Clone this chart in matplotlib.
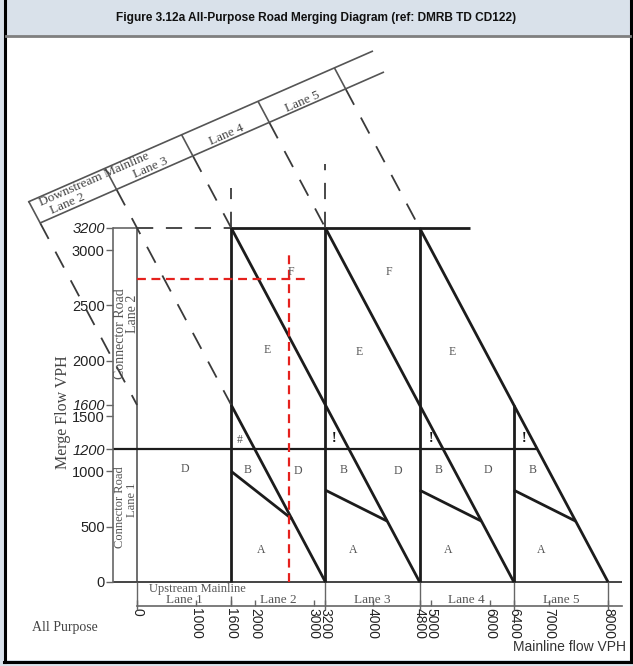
import numpy as np
import matplotlib
matplotlib.use('Agg')
import matplotlib.pyplot as plt
from matplotlib.lines import Line2D
from matplotlib.patches import Rectangle

W, H = 633, 666
SERIF = ['Liberation Serif', 'DejaVu Serif']
SANS = ['Liberation Sans', 'DejaVu Sans']

# ---------------- data ----------------
title = 'Figure 3.12a All-Purpose Road Merging Diagram (ref: DMRB TD CD122)'
lane_bounds = [0, 1600, 3200, 4800, 6400, 8000]
lane_names = ['Lane 1', 'Lane 2', 'Lane 3', 'Lane 4', 'Lane 5']
vert_x = [1600, 3200, 4800, 6400]
vert_top = [3200, 3200, 3200, 1600]
cap_sum = [1600, 3200, 4800, 6400, 8000]          # lines x + y = c
dash_end_x = [0, 1600, 1600, 3200, 4800]          # dashed part ends here
solid = [False, True, True, True, True]           # solid part down to y = 0
ba_x0 = [1600, 3200, 4800, 6400]
ba_y0 = [1000, 830, 830, 830]
ba_x1 = [2630, 4250, 5850, 7450]
ba_y1 = [570, 550, 550, 550]
merge_1200 = 1200
merge_1200_end = 6800
merge_3200 = 3200
merge_3200_end = 5650
up_dash_x = [1600, 3200]
up_dash_top = [3560, 3780]
design_mainline = 2580
design_merge = 2740
design_h_end = 2940
design_v_top = 3000
yticks = [0, 500, 1000, 1200, 1500, 1600, 2000, 2500, 3000, 3200]
italic_ticks = [1200, 1600, 3200]
xticks = [0, 1000, 1600, 2000, 3000, 3200, 4000, 4800, 5000, 6000, 6400, 7000, 8000]
# slanted "Downstream Mainline" band (x, y in VPH)
band_upper_x = [-1851, 4008]
band_upper_y = [3435, 4800]
band_lower_x = [-1647, 4195]
band_lower_y = [3245, 4610]
band_text = ['Downstream Mainline', 'Lane 2', 'Lane 3', 'Lane 4', 'Lane 5']
band_text_x = [-733, -1175, 221, 1529, 2819]
band_text_y = [3641, 3422, 3742, 4040, 4339]
region_text = ['D', 'B', 'D', 'A', 'E', 'F', '#',
               'B', 'D', 'A', 'E', 'F', '!',
               'B', 'D', 'A', 'E', '!',
               'B', 'A', '!']
region_x = [815, 1885, 2734, 2100, 2208, 2615, 1750,
            3516, 4433, 3668, 3770, 4280, 3346,
            5129, 5961, 5282, 5350, 4993,
            6726, 6861, 6573]
region_y = [1020, 1010, 1000, 289, 2097, 2802, 1284,
            1010, 1000, 289, 2079, 2802, 1293,
            1010, 1010, 289, 2079, 1293,
            1010, 289, 1293]

# axis extents
x_min, x_max = -408, 8288
y_min, y_max = -217, 4854

fig = plt.figure(figsize=(W / 100, H / 100), dpi=100)
fig.patch.set_facecolor('#d9e1ea')

def fx(px):
    return px / W

def fy(py):
    return 1 - py / H

# frame
fig.add_artist(Rectangle((fx(6), fy(660)), fx(630) - fx(6), fy(37) - fy(660),
                         transform=fig.transFigure, facecolor='white', edgecolor='none',
                         zorder=-10))
for xs, ys, c, lw in [([4.8, 4.8], [0, 661.5], 'black', 2.2),
                      ([631, 631], [0, 661.5], 'black', 2.2),
                      ([3.5, 632], [661.5, 661.5], 'black', 2.2),
                      ([6, 630], [35.5, 35.5], '#7f7f7f', 2.0)]:
    fig.add_artist(Line2D([fx(v) for v in xs], [fy(v) for v in ys], color=c, lw=lw,
                          transform=fig.transFigure, zorder=5))
fig.text(fx(316.5), fy(18), title, ha='center', va='center', fontsize=8.6,
         fontweight='bold', family=SANS, color='#111111')

ax = fig.add_axes([fx(113), fy(606), fx(625) - fx(113), fy(45) - fy(606)])
ax.set_zorder(1)
ax.set_xlim(x_min, x_max)
ax.set_ylim(y_min, y_max)
ax.patch.set_visible(False)
for s in ['top', 'right']:
    ax.spines[s].set_visible(False)
ax.spines['left'].set_bounds(0, 3200)
ax.spines['left'].set_color('#666666')
ax.spines['left'].set_linewidth(1.2)
ax.spines['bottom'].set_bounds(0, 8240)
ax.spines['bottom'].set_color('#666666')
ax.spines['bottom'].set_linewidth(1.2)

ax.set_yticks(yticks, [str(v) for v in yticks], fontsize=10.5, family=SANS)
for lab, v in zip(ax.get_yticklabels(), yticks):
    if v in italic_ticks:
        lab.set_fontstyle('italic')
ax.tick_params(axis='y', direction='out', length=5, width=1, color='#666666', pad=1,
               labelcolor='#222222')
ax.set_xticks(xticks, [str(v) for v in xticks], rotation=-90, fontsize=10, family=SANS)
ax.tick_params(axis='x', direction='in', length=4, width=1, color='#666666', pad=1.5,
               labelcolor='#222222')

BLK = '#1c1c1c'
GRY = '#666666'
DSH = '#3a3a3a'
kw = dict(clip_on=False, solid_capstyle='butt')

# left connector-road box and axes lines
ax.plot([x_min, 0], [merge_3200, merge_3200], color=GRY, lw=1.2, **kw)
ax.plot([0, 0], [0, merge_3200], color='#555555', lw=1.2, **kw)
ax.plot([x_min, 8240], [0, 0], color='#444444', lw=1.4, **kw)
for xb in lane_bounds:
    if xb == 1600:
        ax.plot([xb, xb], [y_min, -130], color=GRY, lw=1.0, **kw)
    else:
        ax.plot([xb, xb], [y_min - 40, 0], color=GRY, lw=1.0, **kw)

# horizontal merge-flow lines
ax.plot([x_min, merge_1200_end], [merge_1200, merge_1200], color=BLK, lw=1.6, **kw)
ax.plot([0, lane_bounds[1]], [merge_3200, merge_3200], color=DSH, lw=1.3,
        dashes=(9, 7), **kw)
ax.plot([lane_bounds[1], merge_3200_end], [merge_3200, merge_3200], color=BLK, lw=2.0, **kw)

# vertical lane lines
for xv, yt in zip(vert_x, vert_top):
    ax.plot([xv, xv], [0, yt], color=BLK, lw=2.0, **kw)
for xv, yt in zip(up_dash_x, up_dash_top):
    ax.plot([xv, xv], [merge_3200, yt], color=DSH, lw=1.3, dashes=(9, 7), **kw)

# capacity lines x + y = c
ux = np.array(band_upper_x, float)
uy = np.array(band_upper_y, float)
lx = np.array(band_lower_x, float)
ly = np.array(band_lower_y, float)
su = (uy[1] - uy[0]) / (ux[1] - ux[0])
sl = (ly[1] - ly[0]) / (lx[1] - lx[0])
for c, xe, so in zip(cap_sum, dash_end_x, solid):
    xu = (c - uy[0] + su * ux[0]) / (1 + su)
    xl = (c - ly[0] + sl * lx[0]) / (1 + sl)
    ax.plot([xu, xl], [c - xu, c - xl], color='#555555', lw=1.2, **kw)
    ax.plot([xl, xe], [c - xl, c - xe], color=DSH, lw=1.3, dashes=(10, 8), **kw)
    if so:
        ax.plot([xe, c], [c - xe, 0], color=BLK, lw=2.0, **kw)

# band outline
ax.plot(ux, uy, color='#555555', lw=1.2, **kw)
ax.plot(lx, ly, color='#555555', lw=1.2, **kw)
ang = np.degrees(np.arctan2(su, 1))
for t, x, y in zip(band_text, band_text_x, band_text_y):
    ax.text(x, y, t, rotation=ang, transform_rotates_text=True, rotation_mode='anchor',
            ha='center', va='center', fontsize=9.5, family=SERIF, color='#444444')

# B / A boundaries
for x0, y0, x1, y1 in zip(ba_x0, ba_y0, ba_x1, ba_y1):
    ax.plot([x0, x1], [y0, y1], color=BLK, lw=2.0, **kw)

# region letters
for t, x, y in zip(region_text, region_x, region_y):
    if t == '!':
        ax.text(x, y, t, ha='center', va='center', fontsize=10, family=SERIF,
                color='#111111', fontweight='bold')
    else:
        ax.text(x, y, t, ha='center', va='center', fontsize=8.5, family=SERIF,
                color='#555555')

# red design lines
ax.plot([0, design_h_end], [design_merge, design_merge], color='#e5211d', lw=1.6,
        dashes=(4, 2.5), **kw)
ax.plot([design_mainline, design_mainline], [0, design_v_top], color='#e5211d', lw=1.6,
        dashes=(4, 2.5), **kw)

# lane names in bottom band
ax.text(1019, -62, 'Upstream Mainline', ha='center', va='center', fontsize=9,
        family=SERIF, color='#555555')
for i, name in enumerate(lane_names):
    xm = (lane_bounds[i] + lane_bounds[i + 1]) / 2
    ax.text(xm, -160, name, ha='center', va='center', fontsize=9.5, family=SERIF,
            color='#555555')

# connector road labels
ax.text(-289, 2242, 'Connector Road', rotation=90, ha='center', va='center', fontsize=10,
        family=SERIF, color='#555555')
ax.text(-85, 2422, 'Lane 2', rotation=90, ha='center', va='center', fontsize=10,
        family=SERIF, color='#555555')
ax.text(-289, 678, 'Connector Road', rotation=90, ha='center', va='center', fontsize=9,
        family=SERIF, color='#555555')
ax.text(-85, 741, 'Lane 1', rotation=90, ha='center', va='center', fontsize=9,
        family=SERIF, color='#555555')

fig.text(fx(63), fy(412), 'Merge Flow VPH', rotation=90, ha='center', va='center',
         fontsize=11.5, family=SERIF, color='#444444')
fig.text(fx(65), fy(628), 'All Purpose', ha='center', va='center', fontsize=10,
         family=SERIF, color='#444444')
fig.text(fx(626), fy(647), 'Mainline flow VPH', ha='right', va='center', fontsize=10,
         family=SANS, color='#333333')

fig.savefig('out.png', dpi=100, facecolor=fig.get_facecolor())
